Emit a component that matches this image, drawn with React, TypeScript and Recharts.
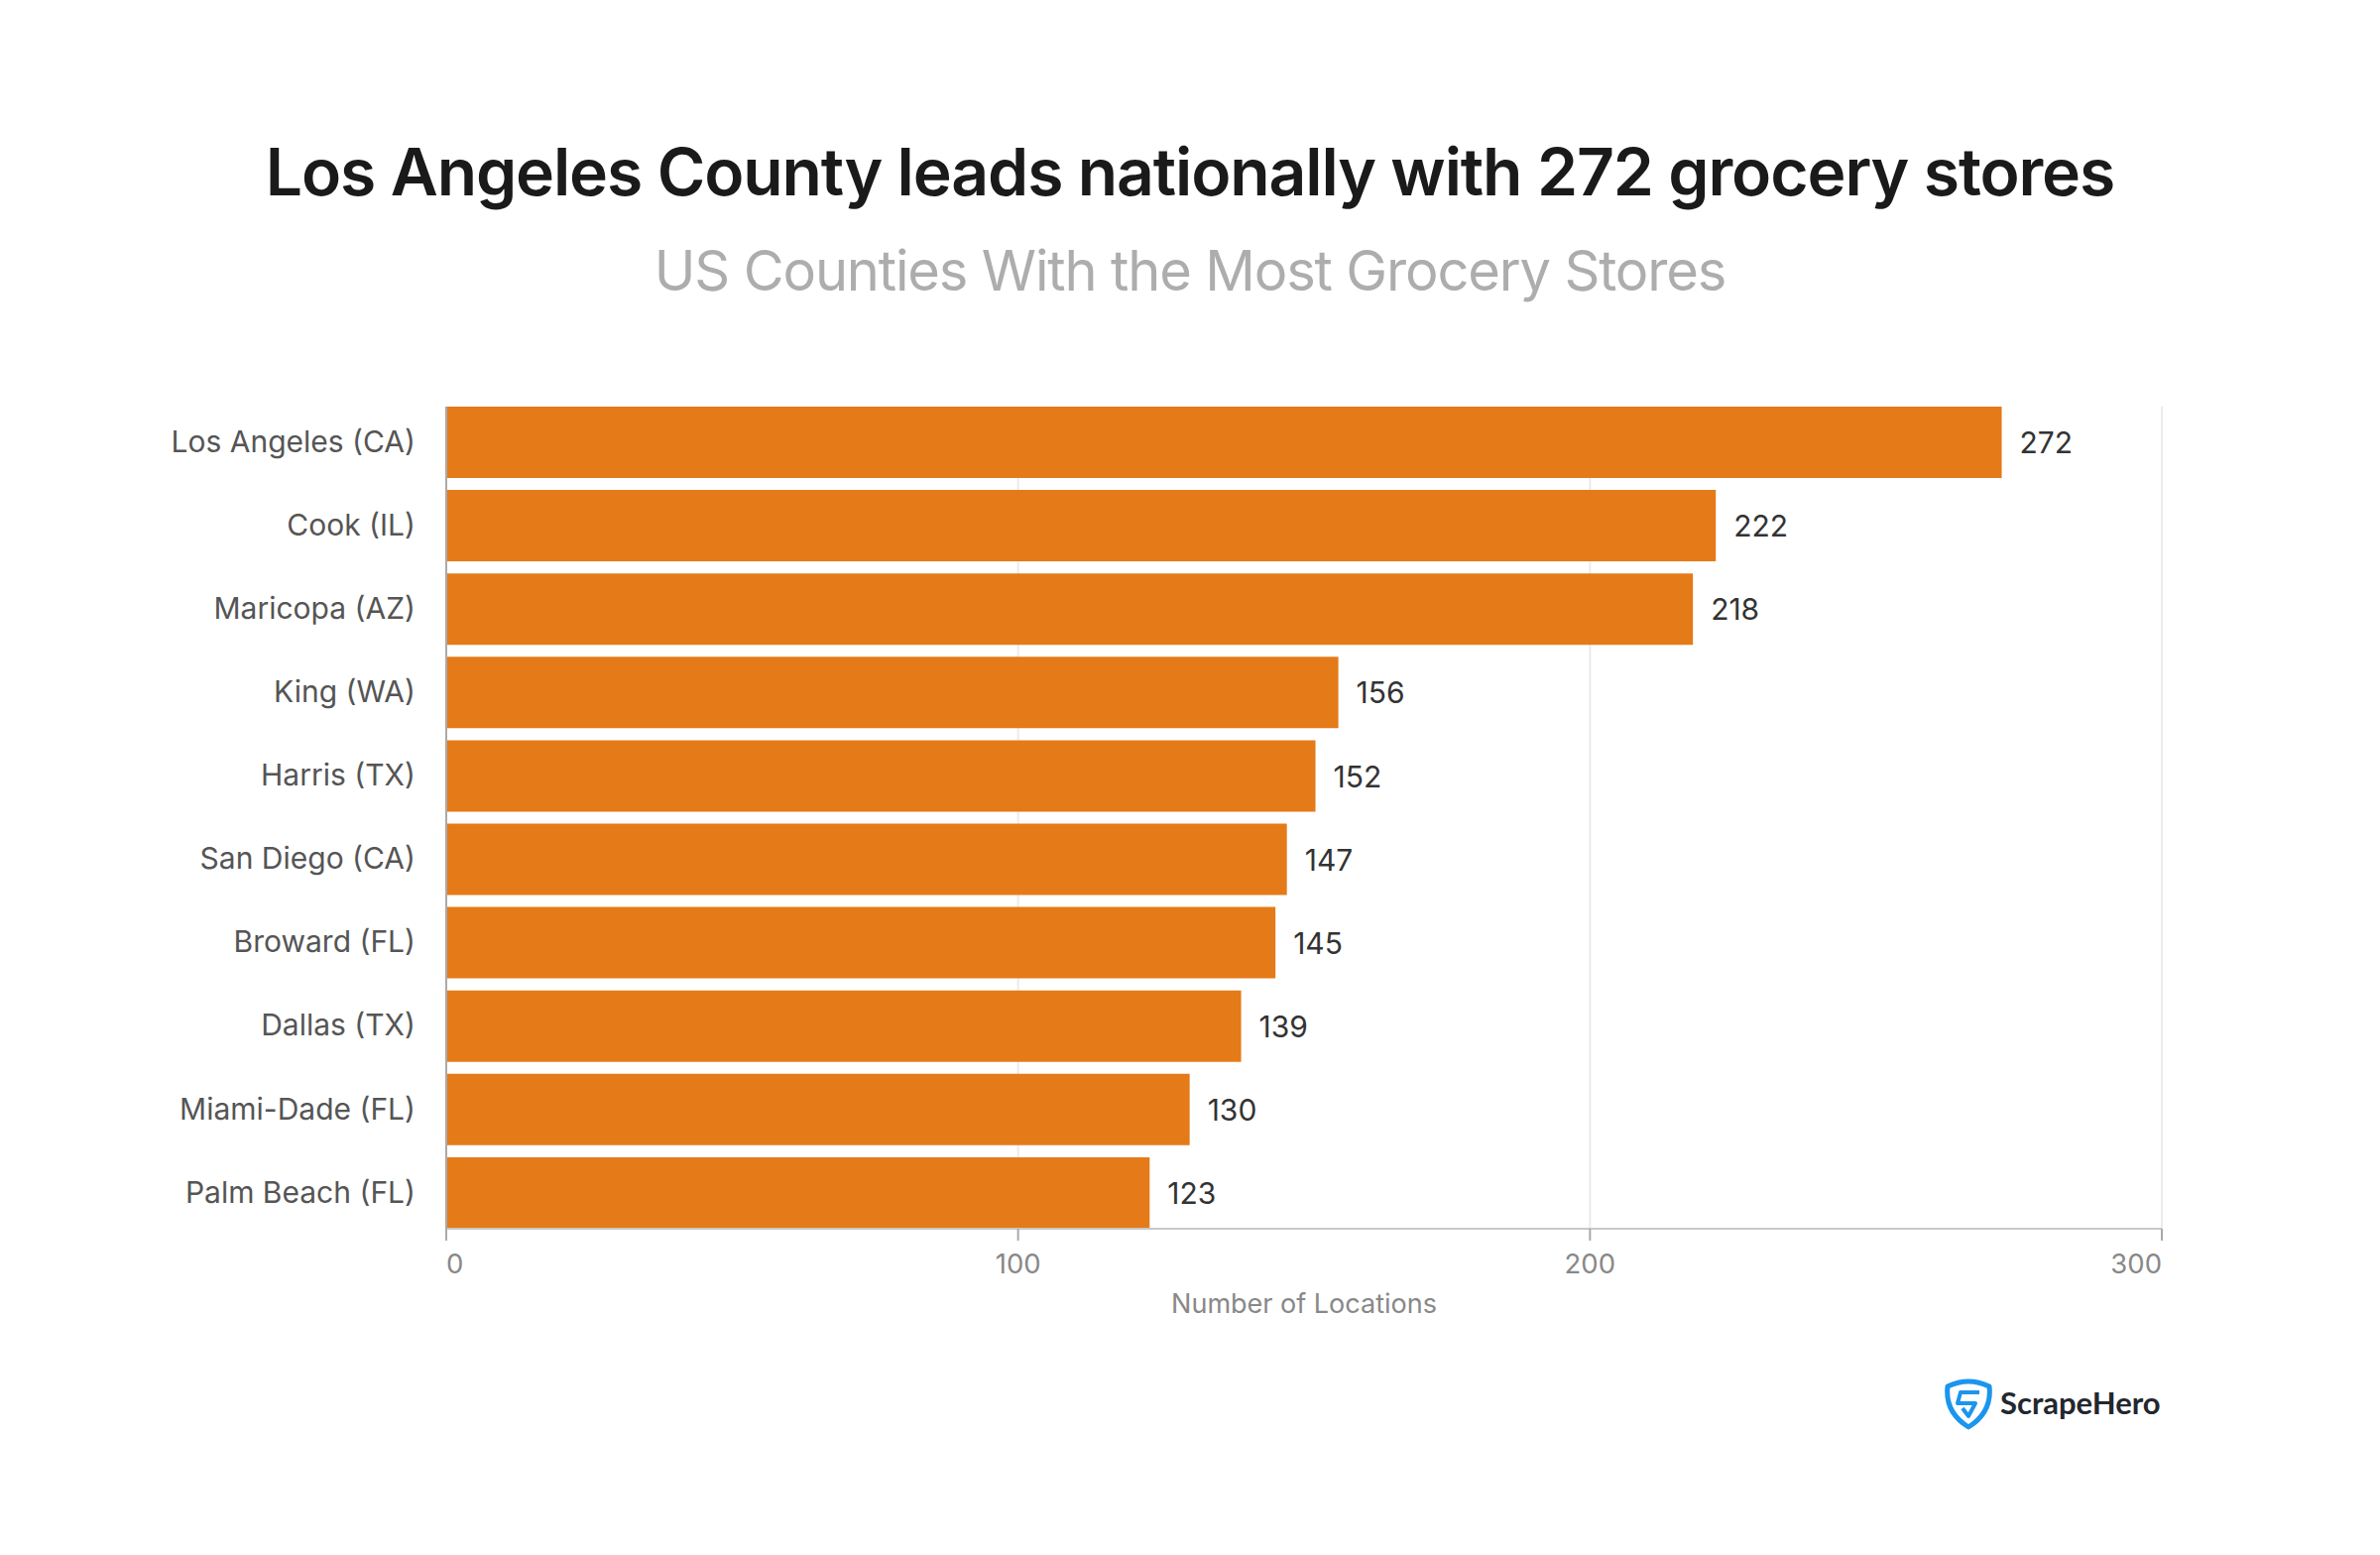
import React from 'react';
import { Bar, BarChart, CartesianGrid, LabelList, XAxis, YAxis } from 'recharts';

const counties = [
  'Los Angeles (CA)',
  'Cook (IL)',
  'Maricopa (AZ)',
  'King (WA)',
  'Harris (TX)',
  'San Diego (CA)',
  'Broward (FL)',
  'Dallas (TX)',
  'Miami-Dade (FL)',
  'Palm Beach (FL)',
];
const storeCounts = [272, 222, 218, 156, 152, 147, 145, 139, 130, 123];
const xTicks = [0, 100, 200, 300];

const chartData = counties.map((county, i) => ({ county, stores: storeCounts[i] }));

const FONT = 'Inter, "Noto Sans", sans-serif';

function XTick({ x, y, payload }: any) {
  // first and last tick labels sit inside the plot edges
  const anchor = payload.value === 0 ? 'start' : payload.value === 300 ? 'end' : 'middle';
  return (
    <text x={x} y={y + 31} textAnchor={anchor} fontFamily={FONT} fontSize={27.5} fill="#888888">
      {payload.value}
    </text>
  );
}

export default function App() {
  return (
    <div style={{ position: 'absolute', left: 0, top: 0, width: 2400, height: 1568, background: '#fff', overflow: 'hidden' }}>
      <div
        style={{
          position: 'absolute',
          top: 131,
          width: 2400,
          textAlign: 'center',
          fontFamily: FONT,
          fontWeight: 600,
          fontSize: 66,
          letterSpacing: -1.12,
          lineHeight: '84px',
          color: '#1a1a1a',
        }}
      >
        Los Angeles County leads nationally with 272 grocery stores
      </div>
      <div
        style={{
          position: 'absolute',
          top: 235,
          width: 2400,
          textAlign: 'center',
          fontFamily: FONT,
          fontSize: 56,
          letterSpacing: -1.15,
          lineHeight: '76px',
          color: '#adadad',
        }}
      >
        US Counties With the Most Grocery Stores
      </div>

      <BarChart
        width={2400}
        height={1568}
        data={chartData}
        layout="vertical"
        margin={{ top: 410, right: 220, bottom: 249, left: 250 }}
        style={{ position: 'absolute', left: 0, top: 0 }}
      >
        <CartesianGrid horizontal={false} stroke="#ebebeb" strokeWidth={2} />
        <XAxis
          type="number"
          domain={[0, 300]}
          ticks={xTicks}
          height={80}
          interval={0}
          stroke="#c8c8c8"
          strokeWidth={2}
          tickSize={12}
          tickLine={{ stroke: '#aaaaaa', strokeWidth: 2 }}
          tick={<XTick />}
          label={{
            value: 'Number of Locations',
            position: 'insideBottom',
            offset: -5,
            fontFamily: FONT,
            fontSize: 27,
            fill: '#888888',
          }}
        />
        <YAxis
          type="category"
          dataKey="county"
          width={200}
          interval={0}
          padding={{ top: -6, bottom: -6 }}
          axisLine={{ stroke: '#aaaaaa', strokeWidth: 2 }}
          tickLine={false}
          tickMargin={25}
          tick={{ fontFamily: FONT, fontSize: 30, fill: '#555555', dy: -1 }}
        />
        <Bar dataKey="stores" fill="#e57a18" barSize={72} isAnimationActive={false}>
          <LabelList
            dataKey="stores"
            position="right"
            offset={18}
            dy={0.5}
            fontFamily={FONT}
            fontSize={30}
            fill="#333333"
          />
        </Bar>
      </BarChart>

      <svg style={{ position: 'absolute', left: 1960, top: 1390 }} width={52} height={52} viewBox="0 0 52 52">
        <path
          d="M4 8 Q25 -2 46 8 Q49 34 25 49 Q1 34 4 8 Z"
          fill="none"
          stroke="#1b95ee"
          strokeWidth={5}
          strokeLinejoin="round"
        />
        <path
          d="M36 14 H17 L14 25 H32 L25 38 L19 30"
          fill="none"
          stroke="#1b95ee"
          strokeWidth={4}
          strokeLinejoin="round"
        />
      </svg>
      <div
        style={{
          position: 'absolute',
          left: 2017,
          top: 1392,
          fontFamily: 'Lato, sans-serif',
          fontWeight: 700,
          fontSize: 31,
          lineHeight: '44px',
          color: '#23272e',
        }}
      >
        ScrapeHero
      </div>
    </div>
  );
}
